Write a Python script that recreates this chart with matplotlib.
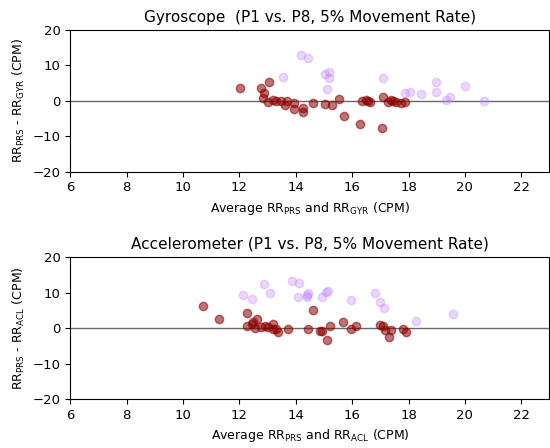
import numpy as np
import matplotlib.pyplot as plt

# Bland-Altman style agreement: mean of the two rates vs. their difference
# "ok" points are within the agreement band, "out" points are outliers

gyr_ok_mean = [12.01, 12.76, 13.03, 12.87, 12.84, 13.01, 13.19, 13.31, 13.49, 13.60,
               13.67, 13.94, 13.94, 14.26, 14.26, 14.61, 15.02, 15.28, 15.52, 15.70,
               16.27, 16.36, 16.50, 16.56, 16.62, 17.06, 17.09, 17.27, 17.39, 17.45,
               17.57, 17.72, 17.86]
gyr_ok_diff = [3.7, 3.7, 5.3, 2.3, 0.7, -0.2, 0.2, 0.0, 0.0, -1.2,
               0.0, -0.6, -2.4, -2.1, -3.2, -0.5, -0.9, -1.3, 0.6, -4.3,
               -6.6, -0.1, 0.2, 0.0, -0.3, -7.8, 1.0, -0.2, 0.2, 0.0,
               -0.2, -0.5, -0.2]

gyr_out_mean = [13.55, 14.17, 14.44, 15.02, 15.18, 15.18, 15.12, 17.09, 17.86, 18.04,
                18.45, 18.99, 18.96, 19.46, 19.34, 20.01, 20.66]
gyr_out_diff = [6.8, 12.9, 12.2, 7.6, 8.0, 6.4, 3.3, 6.4, 2.1, 2.6,
                1.8, 5.2, 2.6, 1.0, 0.2, 4.2, 0.0]

acl_ok_mean = [10.69, 11.28, 12.27, 12.27, 12.43, 12.48, 12.54, 12.62, 12.78, 12.90,
               13.01, 13.19, 13.19, 13.31, 13.37, 13.72, 14.43, 14.61, 14.85, 14.94,
               15.12, 15.20, 15.67, 15.97, 16.12, 16.98, 17.09, 17.15, 17.30, 17.39,
               17.80, 17.90]
acl_ok_diff = [6.3, 2.5, 4.4, 0.5, 1.2, 1.6, 0.0, 2.5, 0.3, 0.6,
               0.3, 1.2, -0.2, -0.3, -1.2, -0.2, -0.2, 5.2, -0.9, -0.9,
               -3.3, 0.5, 1.7, -0.3, 0.5, 0.9, 0.5, -0.5, -2.5, -0.5,
               -0.2, -1.0]

acl_out_mean = [12.13, 12.46, 12.86, 13.10, 13.87, 14.10, 14.06, 14.38, 14.40, 14.43,
                14.94, 15.08, 15.14, 15.97, 16.80, 16.98, 17.13, 18.28, 19.57]
acl_out_diff = [9.4, 8.2, 12.4, 10.0, 13.4, 12.8, 8.9, 9.2, 8.9, 9.9,
                8.9, 10.1, 10.6, 7.8, 10.0, 7.3, 5.8, 2.1, 4.0]

ok_color = 'darkred'
out_color = '#c080ff'

fig = plt.figure(figsize=(5.5, 4.48), dpi=100)
ax1 = fig.add_axes([0.128, 0.617, 0.871, 0.316])
ax2 = fig.add_axes([0.128, 0.109, 0.871, 0.317])

panels = [
    (ax1, gyr_ok_mean, gyr_ok_diff, gyr_out_mean, gyr_out_diff,
     'Gyroscope  (P1 vs. P8, 5% Movement Rate)', 'GYR'),
    (ax2, acl_ok_mean, acl_ok_diff, acl_out_mean, acl_out_diff,
     'Accelerometer (P1 vs. P8, 5% Movement Rate)', 'ACL'),
]

for ax, okx, oky, outx, outy, title, sensor in panels:
    ax.axhline(0, color='dimgray', linewidth=1, zorder=1)
    ax.scatter(outx, outy, s=36, color=out_color, alpha=0.32, zorder=2)
    ax.scatter(okx, oky, s=36, color=ok_color, alpha=0.55, zorder=3)
    ax.set_xlim(6, 23)
    ax.set_ylim(-20, 20)
    ax.set_xticks(np.arange(6, 23, 2))
    ax.set_yticks([-20, -10, 0, 10, 20])
    ax.tick_params(labelsize=9.5)
    ax.set_title(title, fontsize=11)
    ax.set_xlabel(r'Average RR$_{\mathrm{PRS}}$ and RR$_{\mathrm{%s}}$ (CPM)' % sensor,
                  fontsize=9)
    ax.set_ylabel(r'RR$_{\mathrm{PRS}}$ - RR$_{\mathrm{%s}}$ (CPM)' % sensor,
                  fontsize=9)

fig.savefig('out.png', dpi=100)
